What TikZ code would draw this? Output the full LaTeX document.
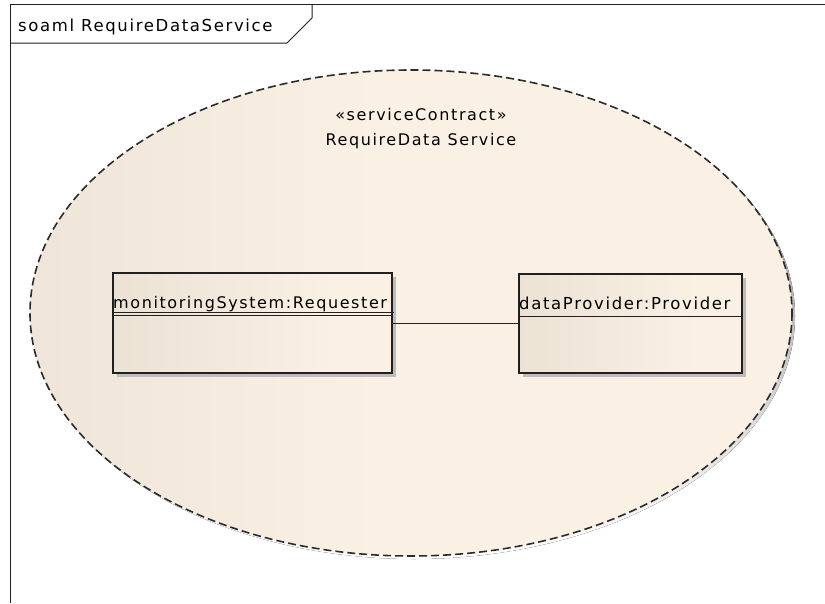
\documentclass[tikz,border=0pt]{standalone}
\usepackage{fontspec}
\setmainfont{DejaVu Sans}[LetterSpace=10]
\usetikzlibrary{shadings}
\definecolor{partL}{HTML}{E3D9CB}
\definecolor{partR}{HTML}{FAF0E3}
\definecolor{ovalL}{HTML}{E6DDD0}
\definecolor{ovalR}{HTML}{FAF0E3}
\definecolor{shade}{HTML}{BDBDBD}
\definecolor{edge}{HTML}{202020}
% left-to-right fades from the darker beige to the light one
\pgfdeclarehorizontalshading{ovalfade}{100bp}{color(0bp)=(ovalL); color(8bp)=(ovalL); color(48bp)=(ovalR); color(100bp)=(ovalR)}
\pgfdeclarehorizontalshading{partfade}{100bp}{color(0bp)=(partL); color(65bp)=(partR); color(100bp)=(partR)}
\tikzset{
  frameline/.style={draw=edge, line width=1pt},
  partbox/.style={draw=edge, line width=1.2pt, shading=partfade, rectangle, inner sep=0pt},
  partshadow/.style={fill=shade, draw=none},
  lbl/.style={font=\fontsize{16}{18}\selectfont, inner sep=0pt, text=black},
  connector/.style={draw=edge, line width=1pt},
}
\begin{document}
\begin{tikzpicture}[x=1pt,y=-1pt]
\useasboundingbox (0,0) rectangle (825,603);
\fill[white] (0,0) rectangle (825,603);

% diagram frame and name tab
\draw[frameline] (10,603) -- (10,4) -- (825,4);
\draw[frameline] (10,43) -- (287,43) -- (312,18) -- (312,4);
\node[lbl, anchor=base west, font=\fontsize{16.5}{18}\selectfont] (title) at (18,31) {soaml RequireDataService};

% service contract collaboration
\fill[shade] (414,316) ellipse [x radius=381, y radius=243];
\shade[shading=ovalfade] (411,313) ellipse [x radius=381, y radius=243];
\draw[draw=edge!95, line width=1.6pt, dash pattern=on 8pt off 4pt] (411,313) ellipse [x radius=381, y radius=243];
\node[lbl, anchor=base] (stereo) at (421,120) {«serviceContract»};
\node[lbl, anchor=base] (cname) at (421,145) {RequireData Service};

% parts
\fill[partshadow] (117,277) rectangle (396,377);
\node[partbox, minimum width=279pt, minimum height=100pt] (req) at (252.5,323) {};
\draw[draw=edge, line width=1pt] (req.west |- 0,315) -- (req.east |- 0,315);
\node[lbl, anchor=base west] (reqname) at (113,308) {monitoringSystem:Requester};
\draw[draw=edge, line width=0.8pt] (113,312) -- (394,312);

\fill[partshadow] (523,278) rectangle (746,377);
\node[partbox, minimum width=223pt, minimum height=99pt] (prov) at (630.5,323.5) {};
\draw[draw=edge, line width=1pt] (prov.west |- 0,316) -- (prov.east |- 0,316);
\node[lbl, anchor=base west, font=\fontsize{16.5}{18}\selectfont] (provname) at (519,309) {dataProvider:Provider};

% connector between the parts
\draw[connector] (req.east |- 0,323) -- (prov.west |- 0,323);
\end{tikzpicture}
\end{document}
